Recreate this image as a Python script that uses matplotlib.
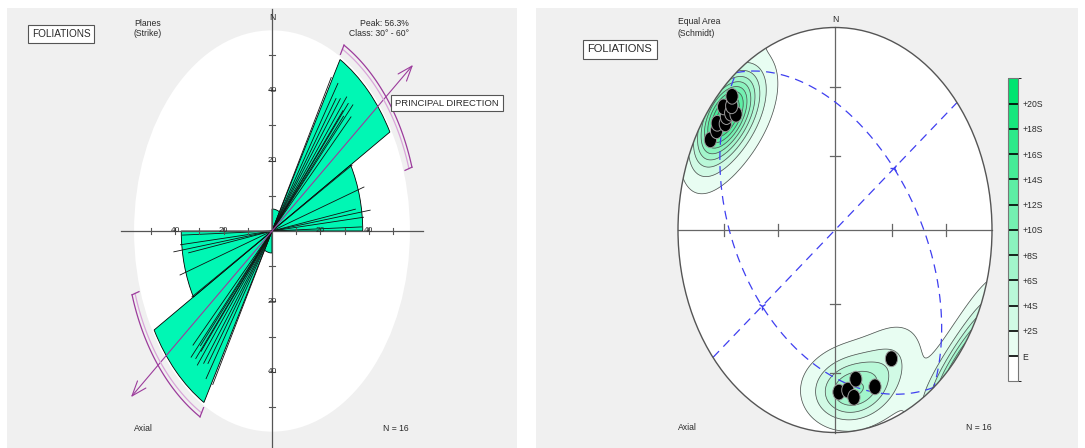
import numpy as np
import matplotlib
matplotlib.use('Agg')
import matplotlib.pyplot as plt
from matplotlib.patches import Ellipse, Wedge
from matplotlib.colors import ListedColormap, BoundaryNorm
import matplotlib.colorbar as mcolorbar

plt.rcParams['font.family'] = ['Liberation Sans Narrow', 'Liberation Sans', 'DejaVu Sans']

# --- data: foliation planes (right-hand-rule strike, dip) ---
strike = [29.3, 33.0, 35.1, 36.9, 39.0, 40.6, 41.0, 42.2, 43.0, 45.2,
          268.2, 264.1, 259.8, 261.7, 251.8, 240.5]
dip = [80.1, 79.0, 80.8, 76.3, 78.0, 82.7, 77.0, 74.0, 79.0, 82.3,
       69.0, 68.4, 63.9, 72.4, 70.4, 62.2]
# length of each strike line on the rose (%)
line_len = [50, 50, 46, 47, 49, 45, 48, 44, 49, 46,
            37, 38, 35, 41, 40, 38]

bin_edges = np.arange(0, 181, 30)
principal_az = 51.0
principal_spread = 21.6

# eigen axes (trend, plunge) -> planes drawn normal to them
eigen_axes = [(51, 50), (231, 40), (141, 0)]

sigma_levels = list(range(0, 21, 2))
sigma_labels = ['E'] + ['+%dS' % v for v in sigma_levels[1:]]

# --- styles ---
W, H = 1085, 448
PANEL = '#f0f0f0'
ROSE = '#00f7b4'
PURPLE = '#9c3c9c'
LILAC = '#d9a6d9'
BLUE = '#3f3ff0'
TXT = '#2a2a2a'

fig = plt.figure(figsize=(W / 100, H / 100), dpi=100)
fig.patch.set_facecolor('white')


def px_axes(x0, y0, x1, y1):
    ax = fig.add_axes([x0 / W, 1 - y1 / H, (x1 - x0) / W, (y1 - y0) / H])
    ax.set_xticks([])
    ax.set_yticks([])
    for s in ax.spines.values():
        s.set_visible(False)
    return ax


def ftext(x, y, s, **kw):
    kw.setdefault('color', TXT)
    return fig.text(x / W, 1 - y / H, s, **kw)


boxkw = dict(boxstyle='square,pad=0.4', fc='white', ec='#555555', lw=0.8)

# ================= left: rose diagram =================
cxL, cyL, sxL, syL = 272, 231, 2.42, 3.52
axL = px_axes(7, 8, 517, 448)
axL.set_facecolor(PANEL)
axL.set_xlim((7 - cxL) / sxL, (517 - cxL) / sxL)
axL.set_ylim((cyL - 448) / syL, (cyL - 8) / syL)

axL.add_patch(Ellipse((0, 0), 114, 114, fc='white', ec='none', zorder=1))

counts, _ = np.histogram(np.mod(strike, 180), bin_edges)
pct = counts / len(strike) * 100
for i, r in enumerate(pct):
    if r == 0:
        continue
    for off in (0, 180):
        a1, a2 = bin_edges[i] + off, bin_edges[i + 1] + off
        axL.add_patch(Wedge((0, 0), r, 90 - a2, 90 - a1, fc=ROSE,
                            ec='black', lw=0.6, zorder=3))

for s, L in zip(strike, line_len):
    a = np.radians(s)
    axL.plot([-L * np.sin(a), L * np.sin(a)], [-L * np.cos(a), L * np.cos(a)],
             color='#111111', lw=0.6, zorder=4)

axL.plot([-62.4, 62.4], [0, 0], color='#555555', lw=0.9, zorder=5)
axL.plot([0, 0], [-62, 63], color='#555555', lw=0.9, zorder=5)
for t in range(10, 51, 10):
    for sg in (-1, 1):
        axL.plot([sg * t, sg * t], [-0.9, 0.9], color='#555555', lw=0.8, zorder=5)
        axL.plot([-1.25, 1.25], [sg * t, sg * t], color='#555555', lw=0.8, zorder=5)
for t in (20, 40):
    for sg in (-1, 1):
        axL.text(sg * t, 0, str(t), fontsize=6, ha='center', va='center', color=TXT, zorder=6)
        axL.text(0, sg * t, str(t), fontsize=6, ha='center', va='center', color=TXT, zorder=6)

# principal direction arrow and spread brackets
pa = np.radians(principal_az)
tip = (75 * np.sin(pa), 75 * np.cos(pa))
axL.annotate('', xy=tip, xytext=(-tip[0], -tip[1]), zorder=6,
             arrowprops=dict(arrowstyle='<->,head_length=0.6,head_width=0.22',
                             color=PURPLE, lw=0.8, mutation_scale=18,
                             shrinkA=0, shrinkB=0))
for base in (principal_az, principal_az + 180):
    th = np.radians(np.linspace(base - principal_spread, base + principal_spread, 80))
    axL.plot(60.6 * np.sin(th), 60.6 * np.cos(th), color=PURPLE, lw=0.9, zorder=6)
    axL.plot(59.3 * np.sin(th), 59.3 * np.cos(th), color=LILAC, lw=0.9, zorder=6)
    for e in (base - principal_spread, base + principal_spread):
        a = np.radians(e)
        axL.plot([57.6 * np.sin(a), 60.6 * np.sin(a)], [57.6 * np.cos(a), 60.6 * np.cos(a)],
                 color=PURPLE, lw=0.9, zorder=6)

ftext(61, 34, 'FOLIATIONS', fontsize=7.2, ha='center', va='center', bbox=boxkw)
ftext(134, 23.5, 'Planes', fontsize=6.2, ha='left', va='center')
ftext(134, 33.5, '(Strike)', fontsize=6.2, ha='left', va='center')
ftext(272, 17, 'N', fontsize=6.2, ha='center', va='center')
ftext(409, 23.5, 'Peak: 56.3%', fontsize=6.2, ha='right', va='center')
ftext(409, 33.5, 'Class: 30\u00b0 - 60\u00b0', fontsize=6.2, ha='right', va='center')
ftext(447, 103, 'PRINCIPAL DIRECTION', fontsize=6.8, ha='center', va='center', bbox=boxkw)
ftext(134, 428, 'Axial', fontsize=6.2, ha='left', va='center')
ftext(409, 428, 'N = 16', fontsize=6.2, ha='right', va='center')

# ================= right: equal-area stereonet =================
cxR, cyR, sxR, syR = 835, 230, 157, 202.5
axR = px_axes(536, 8, 1078, 448)
axR.set_facecolor(PANEL)
axR.set_xlim((536 - cxR) / sxR, (1078 - cxR) / sxR)
axR.set_ylim((cyR - 448) / syR, (cyR - 8) / syR)


def vec(trend, plunge):
    t, p = np.radians(trend), np.radians(plunge)
    return np.array([np.cos(p) * np.sin(t), np.cos(p) * np.cos(t), np.sin(p)])


def proj(v):
    v = np.asarray(v)
    f = 1 / np.sqrt(1 + v[..., 2])
    return v[..., 0] * f, v[..., 1] * f


prim = Ellipse((0, 0), 2, 2, fc='white', ec='none', zorder=1)
axR.add_patch(prim)

pole_trend = np.mod(np.array(strike) - 90, 360)
pole_plunge = 90 - np.array(dip)
P = np.array([vec(t, p) for t, p in zip(pole_trend, pole_plunge)])

# exponential Kamb density on the lower hemisphere
g = np.linspace(-1.05, 1.05, 361)
X, Y = np.meshgrid(g, g)
rho = np.hypot(X, Y)
sc = np.where(rho > 1, 1 / np.maximum(rho, 1e-9), 1.0)
Xc, Yc = X * sc, Y * sc
rc2 = Xc ** 2 + Yc ** 2
fac = np.sqrt(np.clip(2 - rc2, 0, None))
G = np.stack([Xc * fac, Yc * fac, 1 - rc2], -1)
k = 36.0
n = len(strike)
dens = np.exp(k * (np.abs(G @ P.T) - 1)).sum(-1)
Z = (dens - n / k) / np.sqrt(n * (k / 2 - 1) / k ** 2)

green = np.array([0, 228, 112]) / 255
cb_colors = [tuple(1 - (1 - green) * f) for f in np.linspace(0, 1, 12)]
fill_levels = sigma_levels + [max(22, Z.max() + 1)]
cf = axR.contourf(X, Y, Z, levels=fill_levels, colors=cb_colors[1:], zorder=2)
cf.set_clip_path(prim)
cl = axR.contour(X, Y, Z, levels=sigma_levels, colors='#555555', linewidths=0.55, zorder=3)
cl.set_clip_path(prim)

# crosshair and ticks
axR.plot([-1, 1], [0, 0], color='#666666', lw=0.9, zorder=4)
axR.plot([0, 0], [-1, 1], color='#666666', lw=0.9, zorder=4)
for r in (np.sqrt(2) * np.sin(np.radians(15)), np.sqrt(2) * np.sin(np.radians(30))):
    for sg in (-1, 1):
        axR.plot([sg * r, sg * r], [-0.03, 0.03], color='#666666', lw=0.9, zorder=4)
        axR.plot([-0.03, 0.03], [sg * r, sg * r], color='#666666', lw=0.9, zorder=4)

# planes normal to the eigen axes
tt = np.linspace(0, np.pi, 200)
for (tr, pl) in eigen_axes:
    a = vec(tr, pl)
    u = np.cross(a, [0, 0, 1])
    u /= np.linalg.norm(u)
    w = np.cross(a, u)
    w /= np.linalg.norm(w)
    if w[2] < 0:
        w = -w
    pts = np.outer(np.cos(tt), u) + np.outer(np.sin(tt), w)
    gx, gy = proj(pts)
    axR.plot(gx, gy, color=BLUE, lw=0.9, ls=(0, (7, 5)), zorder=5)
for (tr, pl), mk in zip(eigen_axes[:2], ('3', '1')):
    mx, my = proj(vec(tr, pl))
    axR.plot(mx, my, marker=mk, color=BLUE, ms=6, mew=1.0, zorder=5)

px_, py_ = proj(P)
for x, y in zip(px_, py_):
    axR.add_patch(Ellipse((x, y), 0.078, 0.078, fc='black', ec='#9a9a9a', lw=0.7, zorder=6))

axR.add_patch(Ellipse((0, 0), 2, 2, fc='none', ec='#555555', lw=1.0, zorder=7))

# colour scale
cax = fig.add_axes([1008 / W, 1 - 381.3 / H, 10 / W, 303 / H])
bounds = np.arange(-2, 23, 2)
cmap = ListedColormap(cb_colors)
cb = mcolorbar.ColorbarBase(cax, cmap=cmap, norm=BoundaryNorm(bounds, cmap.N),
                            boundaries=bounds, ticks=sigma_levels, orientation='vertical')
cb.ax.set_yticklabels(sigma_labels)
cb.ax.tick_params(direction='in', length=7.5, width=1.2, color='black',
                  labelsize=6.2, pad=3, labelcolor=TXT)
cb.outline.set_edgecolor('#777777')
cb.outline.set_linewidth(0.8)

ftext(678, 21.5, 'Equal Area', fontsize=6.2, ha='left', va='center')
ftext(678, 34, '(Schmidt)', fontsize=6.2, ha='left', va='center')
ftext(620, 49.5, 'FOLIATIONS', fontsize=8, ha='center', va='center', bbox=boxkw)
ftext(835, 19.5, 'N', fontsize=6.2, ha='center', va='center')
ftext(678, 427, 'Axial', fontsize=6.2, ha='left', va='center')
ftext(992, 427, 'N = 16', fontsize=6.2, ha='right', va='center')

fig.savefig('out.png', dpi=100)
